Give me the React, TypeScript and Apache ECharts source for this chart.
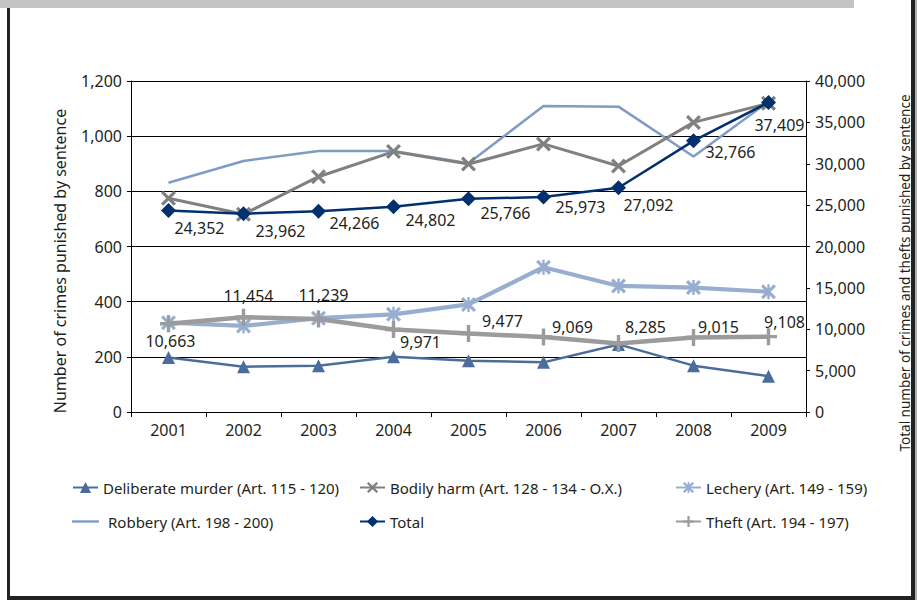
import React, { useEffect, useRef } from "react";
import * as echarts from "echarts";

const years = ["2001", "2002", "2003", "2004", "2005", "2006", "2007", "2008", "2009"];
const murder = [198, 164, 168, 200, 186, 180, 245, 168, 130];
const bodilyHarm = [775, 717, 853, 944, 899, 972, 892, 1050, 1119];
const lechery = [324, 312, 340, 354, 390, 525, 457, 451, 436];
const robbery = [831, 910, 946, 946, 902, 1109, 1107, 926, 1125];
const total = [24352, 23962, 24266, 24802, 25766, 25973, 27092, 32766, 37409];
const theft = [10663, 11454, 11239, 9971, 9477, 9069, 8285, 9015, 9108];

const totalLabelOffsets = [
  [31, 18], [37, 17], [36, 12], [37, 13], [37, 14], [37, 10], [30, 17], [37, 11], [11, 23],
];
const theftLabelOffsets = [
  [2, 17], [5, -21], [5, -24], [27, 13], [34, -13], [29, -10], [27, -16], [25, -10], [16, -15],
];

const FONT = "Noto Sans";
const TXT = "#231f20";
const fmt = (v: number) => v.toLocaleString("en-US");

const X_PATH =
  "path://M0,1.5L1.5,0L5,3.5L8.5,0L10,1.5L6.5,5L10,8.5L8.5,10L5,6.5L1.5,10L0,8.5L3.5,5Z";
const STAR_PATH =
  "path://M0,1.5L1.5,0L5,3.5L8.5,0L10,1.5L6.5,5L10,8.5L8.5,10L5,6.5L1.5,10L0,8.5L3.5,5Z M4.2,0L5.8,0L5.8,10L4.2,10Z";
const PLUS_PATH = "path://M4,0L6,0L6,4L10,4L10,6L6,6L6,10L4,10L4,6L0,6L0,4L4,4Z";
const THIN_LINE = "path://M0,0L25,0L25,2.2L0,2.2Z";

const names = {
  murder: "Deliberate murder (Art. 115 - 120)",
  harm: "Bodily harm (Art. 128 - 134 - O.X.)",
  lechery: "Lechery (Art. 149 - 159)",
  robbery: "Robbery (Art. 198 - 200)",
  total: "Total",
  theft: "Theft (Art. 194 - 197)",
};

function legendAt(name: string, left: number, top: number, extra: any = {}) {
  return {
    data: [name],
    left,
    top,
    itemWidth: 25,
    itemHeight: 14,
    itemGap: 5,
    textStyle: { fontFamily: FONT, fontSize: 15, color: TXT },
    padding: 0,
    ...extra,
  };
}

export default function App() {
  const ref = useRef<HTMLDivElement>(null);
  useEffect(() => {
    if (!ref.current) return;
    const chart = echarts.init(ref.current, undefined, { renderer: "svg" });
    const labelBase = {
      show: true,
      position: "inside",
      fontFamily: FONT,
      fontSize: 16,
      color: TXT,
      align: "center",
      verticalAlign: "middle",
    };
    chart.setOption({
      animation: false,
      backgroundColor: "#ffffff",
      textStyle: { fontFamily: FONT },
      grid: { left: 131, right: 111, top: 81, bottom: 188 },
      legend: [
        legendAt(names.murder, 72, 480),
        legendAt(names.harm, 359, 480),
        legendAt(names.lechery, 675, 480),
        legendAt(names.robbery, 72, 514, { icon: THIN_LINE, itemWidth: 27, textStyle: { fontFamily: FONT, fontSize: 15, color: TXT, padding: [0, 0, 0, 4] } }),
        legendAt(names.total, 359, 514),
        legendAt(names.theft, 675, 514),
      ],
      xAxis: {
        type: "category",
        data: years,
        boundaryGap: true,
        axisLine: { lineStyle: { color: "#000", width: 1 } },
        axisTick: { show: true, length: 5, lineStyle: { color: "#000" } },
        axisLabel: { fontFamily: FONT, fontSize: 16, color: TXT, margin: 10 },
      },
      yAxis: [
        {
          type: "value",
          min: 0,
          max: 1200,
          interval: 200,
          axisLine: { show: true, lineStyle: { color: "#000" } },
          axisTick: { show: true, length: 4, lineStyle: { color: "#000" } },
          axisLabel: { fontFamily: FONT, fontSize: 16, color: TXT, margin: 9, formatter: fmt },
          splitLine: { show: true, lineStyle: { color: "#000", width: 1 } },
        },
        {
          type: "value",
          min: 0,
          max: 40000,
          interval: 5000,
          position: "right",
          axisLine: { show: true, lineStyle: { color: "#000" } },
          axisTick: { show: true, length: 4, lineStyle: { color: "#000" } },
          axisLabel: { fontFamily: FONT, fontSize: 16, color: TXT, margin: 9, formatter: fmt },
          splitLine: { show: false },
        },
      ],
      series: [
        {
          name: names.murder,
          type: "line",
          yAxisIndex: 0,
          data: murder,
          symbol: "triangle",
          symbolSize: 13,
          lineStyle: { color: "#4a6d9b", width: 2.5 },
          itemStyle: { color: "#4a6d9b" },
          z: 2,
        },
        {
          name: names.robbery,
          type: "line",
          yAxisIndex: 0,
          data: robbery,
          symbol: "none",
          lineStyle: { color: "#7f9cc4", width: 2.5 },
          itemStyle: { color: "#7f9cc4" },
          z: 2,
        },
        {
          name: names.harm,
          type: "line",
          yAxisIndex: 0,
          data: bodilyHarm,
          symbol: X_PATH,
          symbolSize: 15,
          lineStyle: { color: "#808080", width: 3 },
          itemStyle: { color: "#808080" },
          z: 3,
        },
        {
          name: names.lechery,
          type: "line",
          yAxisIndex: 0,
          data: lechery,
          symbol: STAR_PATH,
          symbolSize: 15,
          lineStyle: { color: "#98aed0", width: 4.2 },
          itemStyle: { color: "#98aed0" },
          z: 3,
        },
        {
          name: names.total,
          type: "line",
          yAxisIndex: 1,
          data: total.map((v, i) => ({
            value: v,
            label: { ...labelBase, offset: totalLabelOffsets[i] },
          })),
          symbol: "diamond",
          symbolSize: 15,
          label: { ...labelBase, formatter: (p: any) => fmt(p.value) },
          lineStyle: { color: "#00306e", width: 2.5 },
          itemStyle: { color: "#00306e" },
          z: 5,
        },
        {
          name: names.theft,
          type: "line",
          yAxisIndex: 1,
          data: theft.map((v, i) => ({
            value: v,
            label: { ...labelBase, offset: theftLabelOffsets[i] },
          })),
          symbol: PLUS_PATH,
          symbolSize: 17,
          label: { ...labelBase, formatter: (p: any) => fmt(p.value) },
          lineStyle: { color: "#9b9b9b", width: 4.5 },
          itemStyle: { color: "#9b9b9b" },
          z: 4,
        },
      ],
      graphic: [
        { type: "rect", shape: { x: 0, y: 0, width: 854, height: 8 }, style: { fill: "#c3c4c6" }, silent: true },
        { type: "rect", shape: { x: 7, y: 8, width: 3, height: 592 }, style: { fill: "#222" }, silent: true },
        { type: "rect", shape: { x: 7, y: 596, width: 908, height: 4 }, style: { fill: "#222" }, silent: true },
        { type: "rect", shape: { x: 911, y: 0, width: 4, height: 600 }, style: { fill: "#222" }, silent: true },
        { type: "rect", shape: { x: 915, y: 0, width: 2, height: 600 }, style: { fill: "#b0b0b0" }, silent: true },
        {
          type: "text",
          x: 60,
          y: 261,
          rotation: Math.PI / 2,
          style: {
            text: "Number of crimes punished by sentence",
            fontFamily: FONT,
            fontSize: 16,
            fill: TXT,
            align: "center",
            verticalAlign: "middle",
          },
        },
        {
          type: "text",
          x: 905,
          y: 273,
          rotation: Math.PI / 2,
          style: {
            text: "Total number of crimes and thefts punished by sentence",
            fontFamily: FONT,
            fontSize: 13.5,
            fill: TXT,
            align: "center",
            verticalAlign: "middle",
          },
        },
      ],
    });
    return () => chart.dispose();
  }, []);
  return (
    <div
      ref={ref}
      style={{ position: "fixed", left: 0, top: 0, width: 917, height: 600, background: "#fff" }}
    />
  );
}
